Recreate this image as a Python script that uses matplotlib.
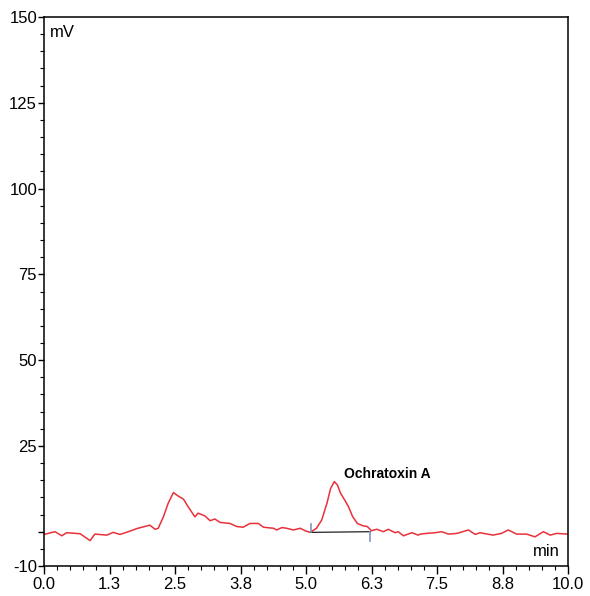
import matplotlib.pyplot as plt
from matplotlib.ticker import MultipleLocator

plt.rcParams['font.family'] = ['Liberation Sans', 'DejaVu Sans']

# chromatogram trace (time in min, signal in mV)
time_min = [0.0, 0.21, 0.34, 0.43, 0.69, 0.88, 0.97, 1.20, 1.32, 1.45,
            1.61, 1.77, 2.02, 2.12, 2.18, 2.28, 2.37, 2.47, 2.56, 2.66,
            2.75, 2.88, 2.94, 3.07, 3.17, 3.26, 3.36, 3.55, 3.68, 3.80,
            3.93, 4.09, 4.19, 4.38, 4.44, 4.54, 4.63, 4.76, 4.89, 4.98,
            5.08, 5.20, 5.30, 5.40, 5.47, 5.54, 5.60, 5.66, 5.74, 5.81,
            5.89, 5.98, 6.09, 6.17, 6.25, 6.35, 6.48, 6.57, 6.70, 6.76,
            6.86, 7.02, 7.14, 7.18, 7.30, 7.46, 7.59, 7.72, 7.88, 8.10,
            8.23, 8.32, 8.57, 8.73, 8.86, 9.02, 9.21, 9.37, 9.53, 9.66,
            9.78, 9.98]
signal_mv = [-0.8, 0.0, -1.2, -0.3, -0.6, -2.6, -0.7, -1.0, -0.2, -0.8,
             0.0, 0.9, 1.9, 0.7, 1.0, 4.4, 8.3, 11.4, 10.4, 9.5,
             7.3, 4.3, 5.4, 4.6, 3.2, 3.7, 2.7, 2.4, 1.5, 1.3,
             2.4, 2.4, 1.3, 1.0, 0.5, 1.2, 1.0, 0.5, 1.0, 0.3,
             -0.2, 1.0, 3.4, 8.3, 12.6, 14.6, 13.6, 11.2, 9.2, 7.3,
             4.4, 2.4, 1.7, 1.5, 0.3, 0.7, 0.0, 0.7, -0.3, 0.0,
             -1.2, -0.3, -1.0, -0.7, -0.5, -0.3, 0.0, -0.7, -0.5, 0.5,
             -0.8, -0.3, -1.0, -0.5, 0.5, -0.7, -0.7, -1.5, 0.0, -1.0,
             -0.5, -0.7]

# integration baseline of the Ochratoxin A peak
peak_start = (5.09, -0.2)
peak_end = (6.23, 0.0)
peak_name = "Ochratoxin A"
peak_label_pos = (5.73, 16.8)

x_ticks = [0.0, 1.25, 2.5, 3.75, 5.0, 6.25, 7.5, 8.75, 10.0]
x_labels = ["0.0", "1.3", "2.5", "3.8", "5.0", "6.3", "7.5", "8.8", "10.0"]
y_ticks = [-10, 0, 25, 50, 75, 100, 125, 150]
y_labels = ["-10", "", "25", "50", "75", "100", "125", "150"]

fig = plt.figure(figsize=(5.9, 5.96), dpi=100)
ax = fig.add_axes([44 / 590, 30 / 596, 524 / 590, 549 / 596])

ax.plot(time_min, signal_mv, color="#e8313a", linewidth=1.1)

# baseline drawn under the peak with its start/end markers
ax.plot([peak_start[0], peak_end[0]], [peak_start[1], peak_end[1]],
        color="#222222", linewidth=0.9)
ax.plot([peak_start[0], peak_start[0]], [peak_start[1], peak_start[1] + 2.4],
        color="#7f93c8", linewidth=1.2)
ax.plot([peak_end[0], peak_end[0]], [peak_end[1], peak_end[1] - 2.8],
        color="#7f93c8", linewidth=1.2)
ax.text(peak_label_pos[0], peak_label_pos[1], peak_name, fontsize=10,
        fontweight="bold", ha="left", va="center")

ax.set_xlim(0, 10)
ax.set_ylim(-10, 150)
ax.set_xticks(x_ticks)
ax.set_xticklabels(x_labels)
ax.set_yticks(y_ticks)
ax.set_yticklabels(y_labels)
ax.xaxis.set_minor_locator(MultipleLocator(0.25))
ax.yaxis.set_minor_locator(MultipleLocator(5))
ax.tick_params(axis="x", which="major", length=6, width=1, labelsize=12, pad=2)
ax.tick_params(axis="x", which="minor", length=3.2, width=0.8)
ax.tick_params(axis="y", which="major", length=4.5, width=1, labelsize=12, pad=0.5)
ax.tick_params(axis="y", which="minor", length=2.6, width=0.8)
for s in ax.spines.values():
    s.set_linewidth(1.1)

ax.text(0.012, 0.985, "mV", transform=ax.transAxes, fontsize=12, ha="left", va="top")
ax.text(0.985, 0.012, "min", transform=ax.transAxes, fontsize=12, ha="right", va="bottom")

fig.savefig("out.png", dpi=100)
